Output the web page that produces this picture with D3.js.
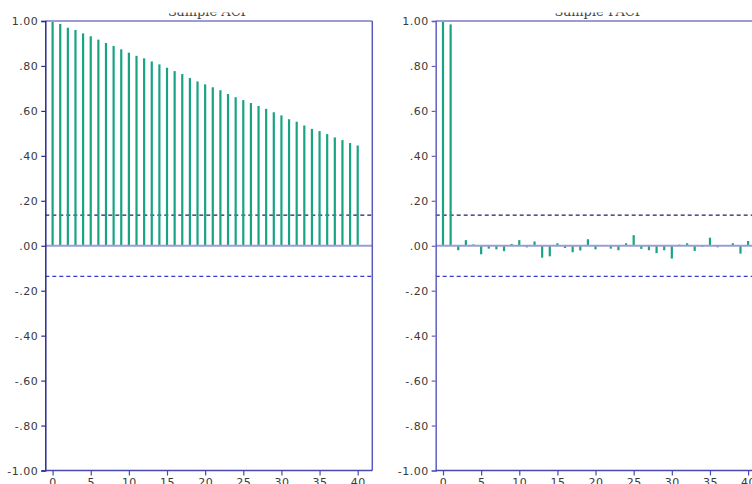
<!DOCTYPE html>
<html>
<head>
<meta charset="utf-8">
<script src="https://cdn.jsdelivr.net/npm/d3@7"></script>
<style>
  body { margin: 0; background: #fff; }
  svg { display: block; }
</style>
</head>
<body>
<div id="chart"></div>
<script>
// Values
const lags = d3.range(0, 41);
const acfValues = [1.000, 0.987, 0.970, 0.960, 0.945, 0.932, 0.917, 0.902, 0.889, 0.874,
  0.859, 0.845, 0.834, 0.820, 0.807, 0.792, 0.777, 0.764, 0.746, 0.731,
  0.718, 0.705, 0.692, 0.675, 0.661, 0.648, 0.635, 0.622, 0.609, 0.594,
  0.580, 0.563, 0.552, 0.535, 0.520, 0.510, 0.497, 0.482, 0.470, 0.457, 0.446];
const pacfValues = [1.000, 0.985, -0.020, 0.025, 0.006, -0.038, -0.013, -0.016, -0.024, 0.008,
  0.025, -0.007, 0.019, -0.053, -0.047, 0.011, -0.010, -0.029, -0.021, 0.029,
  -0.016, 0.002, -0.013, -0.020, 0.011, 0.047, -0.014, -0.020, -0.033, -0.020,
  -0.057, 0.005, 0.011, -0.023, -0.005, 0.036, -0.007, 0.000, 0.011, -0.035, 0.021];
const confBand = 0.136;
const yTicks = [1, 0.8, 0.6, 0.4, 0.2, 0, -0.2, -0.4, -0.6, -0.8, -1];
const xTicks = [0, 5, 10, 15, 20, 25, 30, 35, 40];
const titles = ["Sample ACF", "Sample PACF"];

const width = 752, height = 484;
const svg = d3.select('#chart').append('svg')
  .attr('width', width)
  .attr('height', height);

// titles are mostly hidden above the picture, as in the reference
svg.append('clipPath').attr('id', 'titleClip')
  .append('rect').attr('x', 0).attr('y', 12.5).attr('width', width).attr('height', 20);

const fmt = v => {
  if (v === 1) return "1.00";
  if (v === -1) return "-1.00";
  const s = Math.abs(v).toFixed(2).replace(/^0/, '');
  return (v < 0 ? '-' : '') + s;
};

const labelFont = sel => sel
  .attr('fill', '#3a3a3a')
  .style('font-family', '"DejaVu Sans", Verdana, sans-serif')
  .style('font-size', '11px')
  .style('letter-spacing', '0.5px');

function panel(x0, values, title, axisColor) {
  const pw = 327, top = 21, bottom = 470.5;
  const g = svg.append('g');

  const x = d3.scaleLinear().domain([0, 40]).range([x0 + 7.3, x0 + 312.4]);
  const y = d3.scaleLinear().domain([-1, 1]).range([bottom, top]);

  // title
  g.append('text')
    .attr('clip-path', 'url(#titleClip)')
    .attr('x', x0 + pw / 2)
    .attr('y', 16)
    .attr('text-anchor', 'middle')
    .style('font-family', '"DejaVu Serif", serif')
    .style('font-size', '13px')
    .attr('fill', '#444')
    .text(title);

  // confidence band
  g.append('line')
    .attr('x1', x0).attr('x2', x0 + pw)
    .attr('y1', y(confBand)).attr('y2', y(confBand))
    .attr('stroke', '#1c1c6e').attr('stroke-width', 1.2)
    .attr('stroke-dasharray', '4,3');
  g.append('line')
    .attr('x1', x0).attr('x2', x0 + pw)
    .attr('y1', y(-confBand)).attr('y2', y(-confBand))
    .attr('stroke', '#3a3ac4').attr('stroke-width', 1.2)
    .attr('stroke-dasharray', '4,3');

  // bars
  g.selectAll('line.bar')
    .data(lags)
    .join('line')
    .attr('class', 'bar')
    .attr('x1', d => x(d)).attr('x2', d => x(d))
    .attr('y1', y(0)).attr('y2', d => y(values[d]))
    .attr('stroke', '#18a384')
    .attr('stroke-width', 2.2);

  // zero line
  g.append('line')
    .attr('x1', x0).attr('x2', x0 + pw)
    .attr('y1', y(0)).attr('y2', y(0))
    .attr('stroke', '#9c9cd2').attr('stroke-width', 2);

  // frame: top and right
  g.append('line')
    .attr('x1', x0).attr('x2', x0 + pw)
    .attr('y1', top).attr('y2', top)
    .attr('stroke', '#9c9cd2').attr('stroke-width', 2);
  g.append('line')
    .attr('x1', x0 + pw).attr('x2', x0 + pw)
    .attr('y1', top).attr('y2', bottom)
    .attr('stroke', '#5a5abb').attr('stroke-width', 1.5);

  // y axis
  const yAxis = d3.axisLeft(y).tickValues(yTicks).tickFormat(fmt).tickSize(4).tickPadding(3);
  const ya = g.append('g').attr('transform', `translate(${x0},0)`).call(yAxis);
  ya.select('.domain').attr('stroke', axisColor).attr('stroke-width', 1.5);
  ya.selectAll('.tick line').attr('stroke', axisColor).attr('stroke-width', 1.2);
  ya.selectAll('.tick text').call(labelFont);

  // x axis
  const xAxis = d3.axisBottom(x).tickValues(xTicks).tickFormat(d3.format('d')).tickSize(5).tickPadding(3);
  const xa = g.append('g').attr('transform', `translate(0,${bottom})`).call(xAxis);
  xa.select('.domain').remove();
  xa.append('line')
    .attr('x1', x0).attr('x2', x0 + pw)
    .attr('stroke', '#4848b0').attr('stroke-width', 1.5);
  xa.selectAll('.tick line').attr('stroke', '#4848b0').attr('stroke-width', 1.2);
  xa.selectAll('.tick text').call(labelFont);
}

panel(45.3, acfValues, titles[0], '#2a2a8c');
panel(435.7, pacfValues, titles[1], '#6060c0');
</script>
</body>
</html>
